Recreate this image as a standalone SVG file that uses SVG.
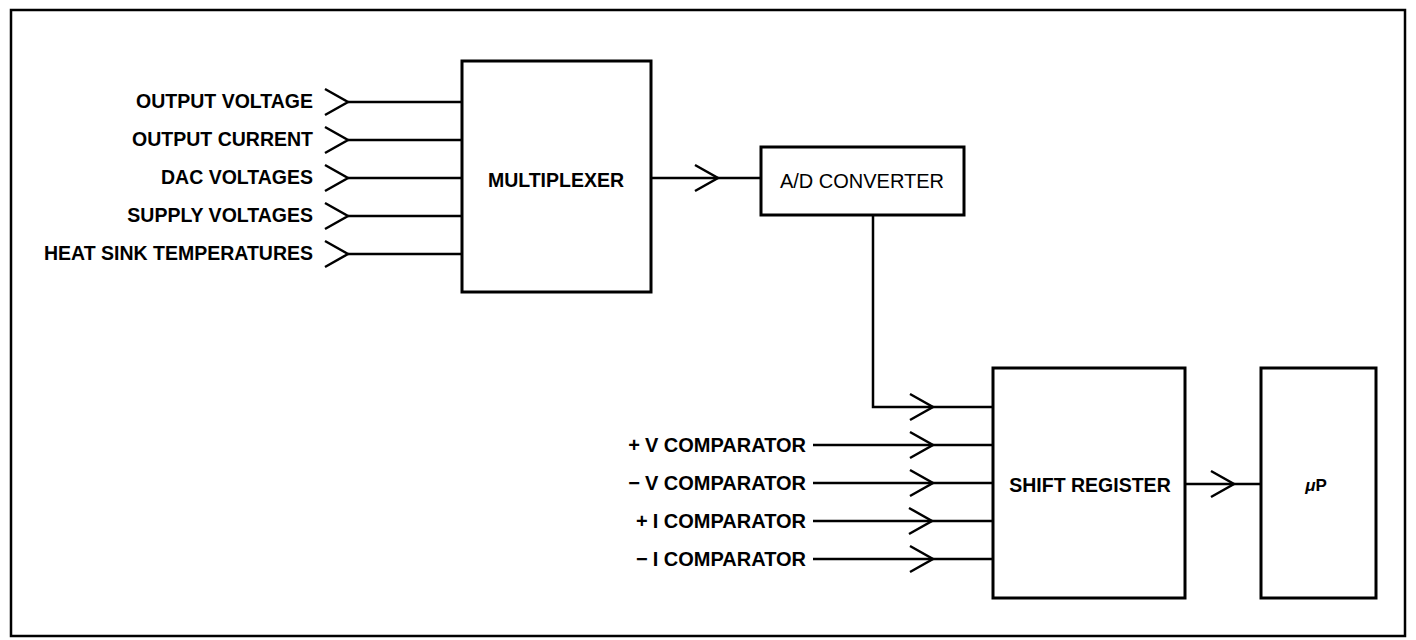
<svg xmlns="http://www.w3.org/2000/svg" xmlns:xlink="http://www.w3.org/1999/xlink" width="1416" height="640" viewBox="0 0 1416 640">
<style>
.box{fill:#fff;stroke:#000;stroke-width:3}
.ln{fill:none;stroke:#000;stroke-width:2.5}
.ch{fill:none;stroke:#000;stroke-width:2.5;stroke-linejoin:miter}
.t{font-family:"Liberation Sans",Arial,Helvetica,sans-serif;font-weight:bold;font-size:19.5px;fill:#000}
.cmp{font-size:20px}
.r{text-anchor:end}
.c{text-anchor:middle}
</style>
<defs>
<path id="chev" class="ch" d="M-23,-13 L0,0 L-23,13"/>
</defs>
<rect x="0" y="0" width="1416" height="640" fill="#fff"/>
<rect x="11" y="10" width="1394" height="626" fill="none" stroke="#000" stroke-width="2.5"/>

<g id="connectors">
  <path class="ln" d="M348,102 H462 M348,140 H462 M348,178 H462 M348,216 H462 M348,254 H462"/>
  <use xlink:href="#chev" x="348" y="102"/>
  <use xlink:href="#chev" x="348" y="140"/>
  <use xlink:href="#chev" x="348" y="178"/>
  <use xlink:href="#chev" x="348" y="216"/>
  <use xlink:href="#chev" x="348" y="254"/>
  <path class="ln" d="M651,178 H761"/>
  <use xlink:href="#chev" x="718" y="178"/>
  <path class="ln" d="M873,215 V407 H993"/>
  <use xlink:href="#chev" x="933" y="407"/>
  <path class="ln" d="M813,445 H993 M813,483 H993 M813,521 H993 M813,559 H993"/>
  <use xlink:href="#chev" x="933" y="445"/>
  <use xlink:href="#chev" x="933" y="483"/>
  <use xlink:href="#chev" x="932" y="521"/>
  <use xlink:href="#chev" x="933" y="559"/>
  <path class="ln" d="M1185,484 H1261"/>
  <use xlink:href="#chev" x="1234" y="484"/>
</g>

<g id="inputs">
  <text class="t r" x="313" y="108">OUTPUT VOLTAGE</text>
  <text class="t r" x="313" y="146">OUTPUT CURRENT</text>
  <text class="t r" x="313" y="184">DAC VOLTAGES</text>
  <text class="t r" x="313" y="222">SUPPLY VOLTAGES</text>
  <text class="t r" x="313" y="260">HEAT SINK TEMPERATURES</text>
</g>

<g id="comparators">
  <text class="t cmp r" x="806" y="452">+<tspan dx="5">V COMPARATOR</tspan></text>
  <text class="t cmp r" x="806" y="490">−<tspan dx="5">V COMPARATOR</tspan></text>
  <text class="t cmp r" x="806" y="528">+<tspan dx="5">I COMPARATOR</tspan></text>
  <text class="t cmp r" x="806" y="566">−<tspan dx="5">I COMPARATOR</tspan></text>
</g>

<g id="multiplexer">
  <rect class="box" x="462" y="61" width="189" height="231"/>
  <text class="t c" x="556" y="187">MULTIPLEXER</text>
</g>

<g id="adc">
  <rect class="box" x="761" y="147" width="203" height="68"/>
  <text class="t c" x="862" y="188" style="font-weight:normal;font-size:20px">A/D CONVERTER</text>
</g>

<g id="shift-register">
  <rect class="box" x="993" y="368" width="192" height="230"/>
  <text class="t c" x="1090" y="492">SHIFT REGISTER</text>
</g>

<g id="microprocessor">
  <rect class="box" x="1261" y="368" width="115" height="230"/>
  <text class="t c" x="1316" y="491" style="font-size:17px"><tspan font-style="italic">μ</tspan>P</text>
</g>
</svg>
